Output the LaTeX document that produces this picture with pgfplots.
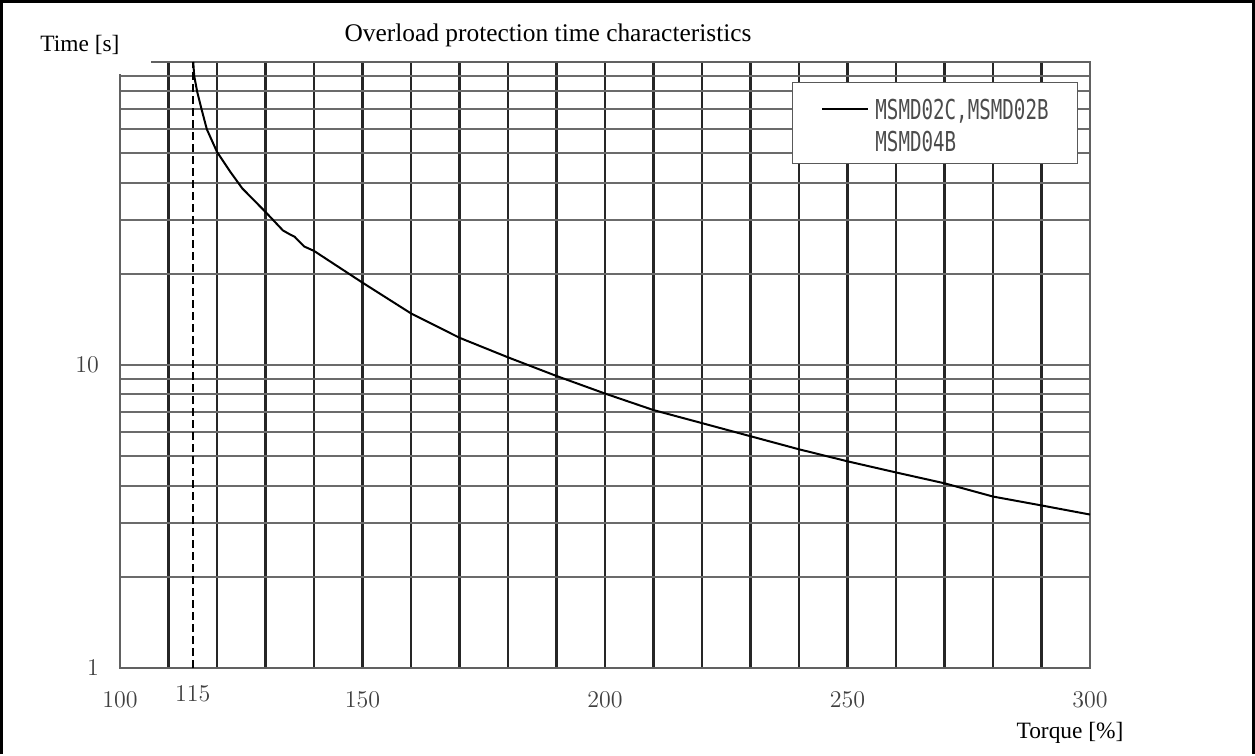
\documentclass[border=0pt]{standalone}
\usepackage{pgfplots}
\pgfplotsset{compat=1.18}
\usepackage[no-math]{fontspec}
\setmainfont{Liberation Serif}
\newfontfamily\legfont[FakeStretch=0.70]{DejaVu Sans Mono}
\begin{document}
\begin{tikzpicture}
\begin{axis}[name=ax, scale only axis, width=485pt, height=303pt,
  xmin=100, xmax=300, ymode=log, ymin=1, ymax=100,
  xtick={100,115,150,200,250,300},
  xticklabels={$100$,\raisebox{6.5pt}{$115$},$150$,$200$,$250$,$300$},
  minor xtick={110,120,...,290},
  ytick={1,10}, yticklabels={$1$,$10$},
  minor ytick={2,3,4,5,6,7,8,9,20,30,40,50,60,70,80,90},
  xmajorgrids=false, xminorgrids=true, ymajorgrids=true, yminorgrids=true,
  major tick length=0pt, minor tick length=0pt,
  minor x grid style={black!85, line width=1.1pt},
  major y grid style={black!58, line width=1pt},
  minor y grid style={black!58, line width=1pt},
  axis line style={black!62, line width=1pt},
  tick label style={font=\fontsize{12.3}{14}\selectfont, black!75},
  xticklabel style={anchor=center, yshift=-16pt},
  yticklabel style={anchor=east, xshift=-7pt},
  title={Overload protection time characteristics},
  every axis title/.style={at={(rel axis cs:0.5,1)}, anchor=center, xshift=-28.5pt, yshift=13.5pt, font=\fontsize{12.7}{15}\selectfont},
  xlabel={Torque [\%]},
  every axis x label/.style={at={(rel axis cs:1,0)}, anchor=center, xshift=-10pt, yshift=-32.5pt, font=\fontsize{11.7}{14}\selectfont},
  ylabel={Time [s]},
  every axis y label/.style={at={(rel axis cs:0,1)}, anchor=center, xshift=-20pt, yshift=8.5pt, font=\fontsize{11.7}{14}\selectfont},
]
\addplot[black, line width=1.2pt, dash pattern=on 4pt off 2pt] coordinates {(115,1) (115,100)};
\addplot[black, line width=1pt] coordinates {
(115.1,100) (115.3,90) (115.9,80) (116.8,70) (117.9,60) (120,50.5) (122.7,43.5)
(125.2,38.3) (130,32) (133.6,27.8) (135,27) (136,26.5) (138,24.6) (140,23.8)
(150,18.7) (160,14.8) (170,12.3) (180,10.6) (190,9.2) (200,8.05) (210,7.1)
(220,6.43) (230,5.82) (240,5.27) (250,4.81) (260,4.42) (270,4.07) (280,3.68)
(290,3.44) (300,3.21)};
\end{axis}
\node[draw=black!65, line width=0.7pt, fill=white, minimum width=142.5pt, minimum height=40.5pt, anchor=north west, inner sep=0pt] (lg) at ([xshift=336pt, yshift=-10pt]ax.north west) {};
\node[anchor=west, inner sep=0pt, font=\legfont\fontsize{13.7}{16}\selectfont] at ([xshift=15pt, yshift=-14.5pt]lg.north west) {\rule[4.4pt]{23pt}{1.1pt}\hspace{3.5pt}\textcolor{black!70}{MSMD02C,MSMD02B}};
\node[anchor=west, inner sep=0pt, font=\legfont\fontsize{13.7}{16}\selectfont, black!70] at ([xshift=41.5pt, yshift=-30pt]lg.north west) {MSMD04B};
\fill[white] ([xshift=-1pt,yshift=-6pt]ax.north west) rectangle ([xshift=15.5pt,yshift=1pt]ax.north west);
\draw[line width=1.5pt] ([shift={(-59.25pt,-43pt)}]ax.south west) -- ([shift={(-59.25pt,30.25pt)}]ax.north west) -- ([shift={(81.75pt,30.25pt)}]ax.north east) -- ([shift={(81.75pt,-43pt)}]ax.south east);
\path ([shift={(-60pt,-43pt)}]ax.south west) rectangle ([shift={(82.5pt,31pt)}]ax.north east);
\end{tikzpicture}
\end{document}
